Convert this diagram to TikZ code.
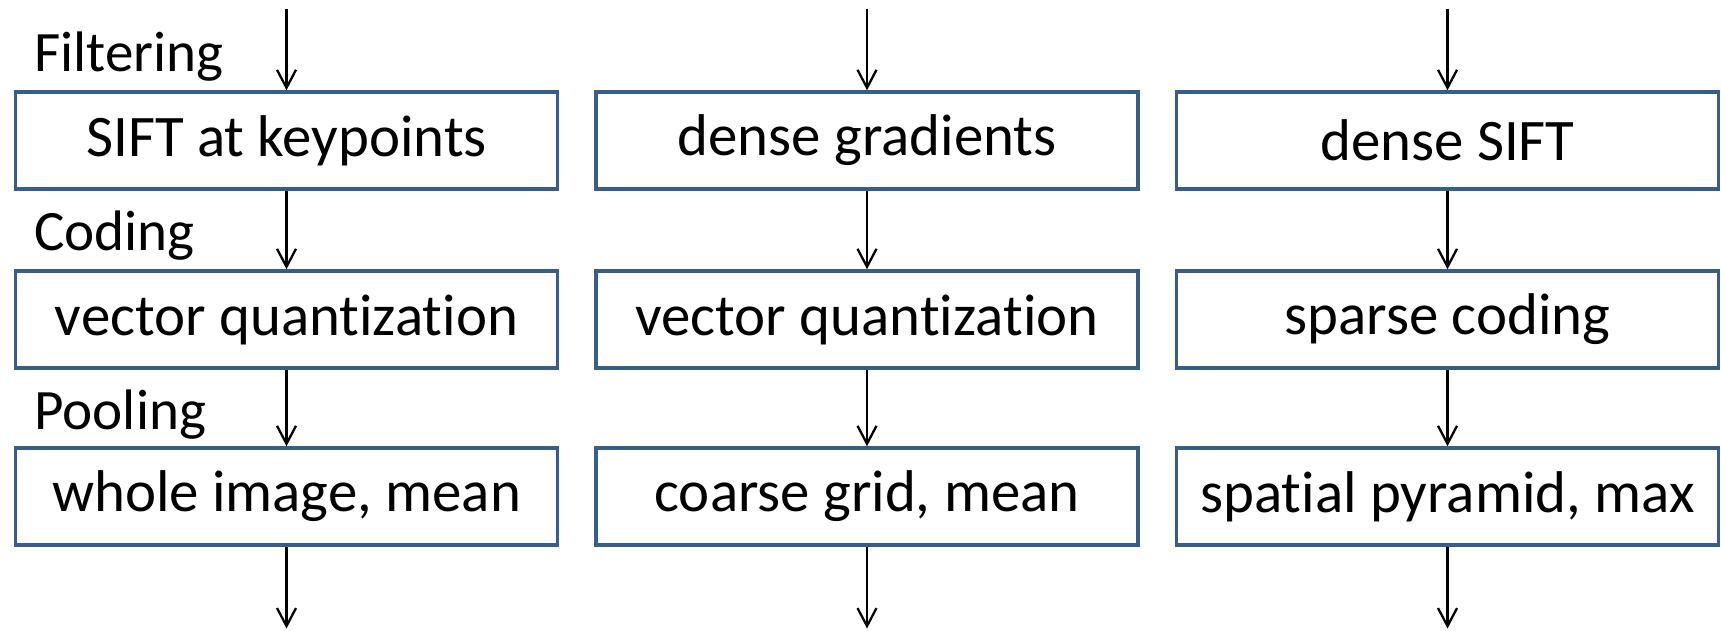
\documentclass[tikz,border=0pt]{standalone}
\usepackage{fontspec}
\setmainfont{Carlito}[Ligatures=NoCommon]
\usetikzlibrary{arrows.meta}
\definecolor{boxblue}{HTML}{385D8A}

\begin{document}
\begin{tikzpicture}[node distance=11.61cm, auto,
	stage/.style={draw=boxblue, line width=2pt, minimum width=10.84cm, minimum height=1.94cm, inner sep=0pt, font=\fontsize{33.5}{40}\selectfont},
	steplabel/.style={anchor=west, inner sep=0pt, font=\fontsize{32.5}{38}\selectfont},
	flow/.style={line width=1.3pt, -{Straight Barb[length=0.36cm, width=0.38cm, line width=1.3pt]}}]
	\useasboundingbox (0,0) rectangle (34.42,-12.6);
	% top row
	\node (SK) [stage] at (5.73,-2.81) {SIFT at keypoints};
	\node (DG) [stage, right of=SK] {dense gradients};
	\node (DS) [stage, right of=DG] {dense SIFT};
	% middle row
	\node (VQ1) [stage, node distance=3.58cm, below of=SK] {vector quantization};
	\node (VQ2) [stage, node distance=3.58cm, below of=DG] {vector quantization};
	\node (SC) [stage, node distance=3.58cm, below of=DS] {sparse coding};
	% bottom row
	\node (WI) [stage, node distance=3.54cm, below of=VQ1] {whole image, mean};
	\node (CG) [stage, node distance=3.54cm, below of=VQ2] {coarse grid, mean};
	\node (SP) [stage, node distance=3.54cm, below of=SC] {spatial pyramid, max};
	% stage names
	\node (filt) [steplabel] at (0.68,-1.14) {Filtering};
	\node (cod) [steplabel] at (0.68,-4.72) {Coding};
	\node (pool) [steplabel] at (0.68,-8.30) {Pooling};
	% free ends
	\path (SK.center) ++(0,2.63) coordinate (inSK);
	\path (DG.center) ++(0,2.63) coordinate (inDG);
	\path (DS.center) ++(0,2.63) coordinate (inDS);
	\path (WI.center) ++(0,-2.64) coordinate (outWI);
	\path (CG.center) ++(0,-2.64) coordinate (outCG);
	\path (SP.center) ++(0,-2.64) coordinate (outSP);
	\draw[flow] (inSK) to (SK);
	\draw[flow] (inDG) to (DG);
	\draw[flow] (inDS) to (DS);
	\draw[flow] (SK) to (VQ1);
	\draw[flow] (DG) to (VQ2);
	\draw[flow] (DS) to (SC);
	\draw[flow] (VQ1) to (WI);
	\draw[flow] (VQ2) to (CG);
	\draw[flow] (SC) to (SP);
	\draw[flow] (WI) to (outWI);
	\draw[flow] (CG) to (outCG);
	\draw[flow] (SP) to (outSP);
\end{tikzpicture}
\end{document}
